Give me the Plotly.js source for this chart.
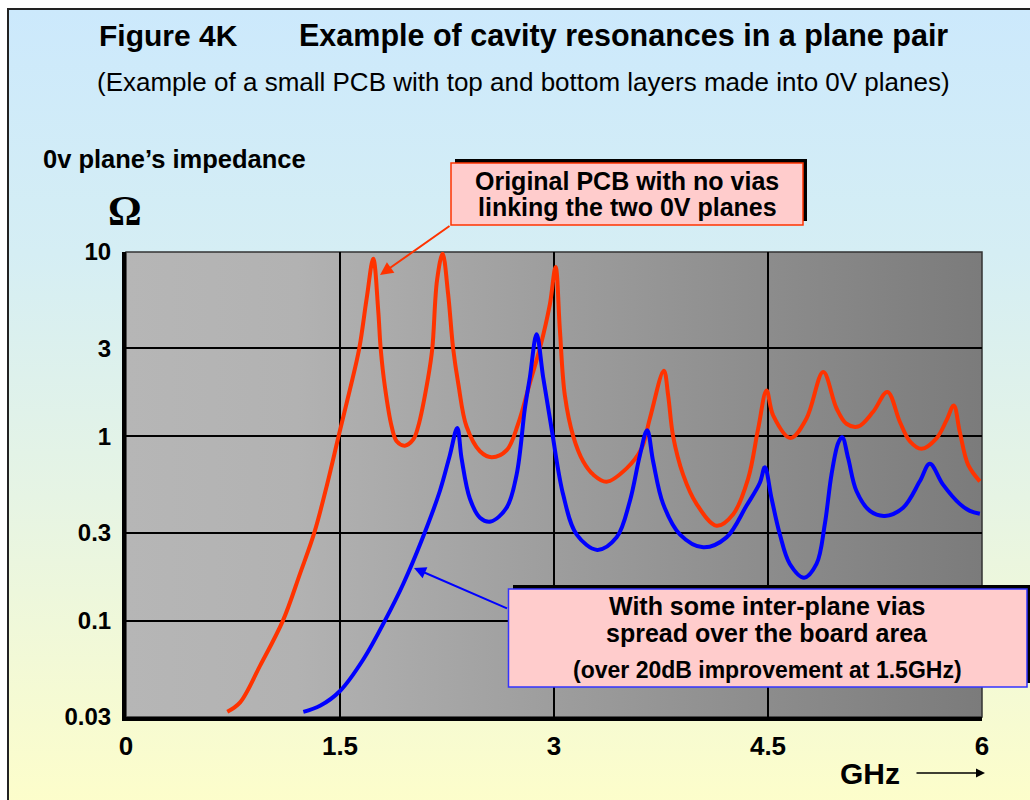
<!DOCTYPE html>
<html>
<head>
<meta charset="utf-8">
<script src="https://cdn.plot.ly/plotly-3.0.1.min.js"></script>
<style>
  html, body { margin: 0; padding: 0; background: #ffffff; }
  #wrap { position: relative; width: 1030px; height: 800px; overflow: hidden; }
  #frame { position: absolute; left: 7px; top: 8px; width: 1040px; height: 810px;
           border-left: 2px solid #222; border-top: 2px solid #222;
           background: linear-gradient(to bottom, #cce9fc 0%, #d5eef4 30%, #e6f4e4 60%, #fefec9 100%); }
  #chart { position: absolute; left: 0; top: 0; width: 1030px; height: 800px; }
</style>
</head>
<body>
<div id="wrap"><div id="frame"></div><div id="chart"></div></div>
<script>
// ---- data ----
// Original PCB with no vias (red)
const freqNoVias = [0.71, 0.80, 0.94, 1.10, 1.22, 1.32, 1.41, 1.49, 1.57, 1.635, 1.687, 1.733, 1.768, 1.785, 1.815, 1.862, 1.897, 1.955, 2.013, 2.048, 2.118, 2.147, 2.18, 2.219, 2.258, 2.293, 2.329, 2.387, 2.481, 2.563, 2.668, 2.749, 2.831, 2.901, 2.971, 3.011, 3.041, 3.076, 3.135, 3.205, 3.275, 3.368, 3.509, 3.614, 3.672, 3.770, 3.80, 3.835, 3.905, 3.999, 4.139, 4.256, 4.361, 4.431, 4.49, 4.536, 4.658, 4.77, 4.887, 4.98, 5.05, 5.132, 5.237, 5.337, 5.424, 5.494, 5.576, 5.681, 5.751, 5.802, 5.844, 5.903, 5.985];
const zNoVias    = [0.032, 0.036, 0.057, 0.10, 0.18, 0.30, 0.55, 1.0, 1.8, 3.0, 5.6, 9.2, 4.8, 3.0, 1.85, 1.13, 0.94, 0.89, 0.96, 1.13, 2.09, 3.0, 7.0, 9.8, 5.9, 3.0, 1.93, 1.13, 0.83, 0.77, 0.84, 1.17, 1.95, 3.0, 5.2, 8.3, 3.8, 1.67, 1.0, 0.73, 0.62, 0.567, 0.67, 0.86, 1.25, 2.27, 1.67, 1.0, 0.62, 0.43, 0.327, 0.378, 0.59, 1.10, 1.77, 1.3, 0.98, 1.25, 2.23, 1.42, 1.17, 1.13, 1.36, 1.74, 1.20, 0.94, 0.855, 0.975, 1.22, 1.47, 1.06, 0.70, 0.57];
// With inter-plane vias (blue)
const freqVias = [1.243, 1.36, 1.50, 1.663, 1.815, 1.943, 2.072, 2.20, 2.27, 2.322, 2.352, 2.41, 2.481, 2.556, 2.668, 2.738, 2.796, 2.831, 2.878, 2.924, 2.983, 3.065, 3.158, 3.303, 3.439, 3.532, 3.602, 3.653, 3.695, 3.765, 3.882, 4.046, 4.209, 4.349, 4.443, 4.478, 4.525, 4.583, 4.653, 4.753, 4.84, 4.898, 4.945, 4.992, 5.02, 5.062, 5.12, 5.214, 5.319, 5.447, 5.564, 5.634, 5.727, 5.844, 5.915, 5.985];
const zVias    = [0.032, 0.0345, 0.0415, 0.0615, 0.10, 0.158, 0.272, 0.505, 0.79, 1.11, 0.76, 0.46, 0.362, 0.345, 0.41, 0.62, 1.42, 2.09, 3.58, 2.09, 1.10, 0.48, 0.294, 0.242, 0.283, 0.446, 0.79, 1.08, 0.73, 0.43, 0.294, 0.25, 0.283, 0.42, 0.56, 0.68, 0.46, 0.294, 0.203, 0.171, 0.203, 0.333, 0.62, 0.92, 0.99, 0.76, 0.505, 0.394, 0.37, 0.41, 0.57, 0.71, 0.547, 0.43, 0.394, 0.38];
// axis ticks
const xTickVals = [0, 1.5, 3, 4.5, 6];
const xTickText = ['0', '1.5', '3', '4.5', '6'];
const yTickVals = [0.03, 0.1, 0.3, 1, 3, 10];
const yTickText = ['0.03', '0.1', '0.3', '1', '3', '10'];

// ---- layout helpers (pixel -> paper) ----
const W = 1030, H = 800, ML = 126, MR = 48, MT = 252, MB = 83;
const PW = W - ML - MR, PH = H - MT - MB;
const X = px => (px - ML) / PW;
const Y = py => (H - MB - py) / PH;
const SANS = 'Liberation Sans, Arial, Helvetica, sans-serif';
const RED = '#ff3300', BLUE = '#0000ff';

const plotGrad = "<svg xmlns='http://www.w3.org/2000/svg' width='856' height='465' preserveAspectRatio='none'>" +
  "<defs><linearGradient id='g' x1='0' y1='0' x2='1' y2='0'>" +
  "<stop offset='0' stop-color='#b6b6b6'/><stop offset='0.2' stop-color='#b2b2b2'/><stop offset='1' stop-color='#7b7b7b'/>" +
  "</linearGradient></defs><rect width='856' height='465' fill='url(#g)'/></svg>";

const traces = [
  { x: freqNoVias, y: zNoVias, type: 'scatter', mode: 'lines', name: 'Original PCB with no vias',
    line: { color: RED, width: 4, shape: 'spline', smoothing: 1 } },
  { x: freqVias, y: zVias, type: 'scatter', mode: 'lines', name: 'With some inter-plane vias',
    line: { color: BLUE, width: 4, shape: 'spline', smoothing: 1 } }
];

function txt(text, px, py, size, opts) {
  return Object.assign({ xref: 'paper', yref: 'paper', x: X(px), y: Y(py), text: text, showarrow: false,
    xanchor: 'center', yanchor: 'middle', font: { family: SANS, size: size, color: '#000' } }, opts || {});
}
function arrow(hx, hy, tx, ty, color, width, size) {
  return { xref: 'paper', yref: 'paper', x: X(hx), y: Y(hy), ax: tx - hx, ay: ty - hy,
    axref: 'pixel', ayref: 'pixel', text: '', showarrow: true, arrowhead: 2, arrowsize: size,
    arrowwidth: width, arrowcolor: color, standoff: 0, startstandoff: 0 };
}
function rect(x0, y0, x1, y1, fill, lineColor, lw) {
  return { type: 'rect', xref: 'paper', yref: 'paper', x0: X(x0), x1: X(x1), y0: Y(y1), y1: Y(y0),
    fillcolor: fill, line: { color: lineColor, width: lw }, layer: 'above' };
}

const layout = {
  width: W, height: H,
  margin: { l: ML, r: MR, t: MT, b: MB, pad: 0 },
  paper_bgcolor: 'rgba(0,0,0,0)', plot_bgcolor: 'rgba(0,0,0,0)',
  showlegend: false,
  xaxis: { range: [0, 6], tickvals: xTickVals, ticktext: xTickText, showgrid: true, gridcolor: '#000', gridwidth: 2,
    zeroline: false, showline: true, linecolor: '#000', linewidth: 4, ticks: '', ticklabelstandoff: 3,
    tickfont: { family: SANS, size: 26, color: '#000', weight: 'bold' }, fixedrange: true },
  yaxis: { type: 'log', range: [Math.log10(0.03), 1], tickvals: yTickVals, ticktext: yTickText, showgrid: true,
    gridcolor: '#000', gridwidth: 2, zeroline: false, showline: true, linecolor: '#000', linewidth: 4, ticks: '',
    ticklabelstandoff: 6, tickfont: { family: SANS, size: 24, color: '#000', weight: 'bold' }, fixedrange: true },
  images: [{ source: 'data:image/svg+xml;charset=utf-8,' + encodeURIComponent(plotGrad), xref: 'paper', yref: 'paper',
    x: 0, y: 1, sizex: 1, sizey: 1, sizing: 'stretch', xanchor: 'left', yanchor: 'top', layer: 'below' }],
  shapes: [
    { type: 'rect', xref: 'paper', yref: 'paper', x0: 0, x1: 1, y0: 0, y1: 1, line: { color: '#333', width: 1.5 }, layer: 'below' },
    rect(455, 159, 807, 221, '#000', '#000', 0),
    rect(451, 163, 803, 225, '#ffcccc', RED, 1.5),
    rect(513, 585, 1034, 683, '#000', '#000', 0),
    rect(508.5, 589, 1027, 687, '#ffcccc', '#3333ff', 1.5)
  ],
  annotations: [
    txt('<b>Figure 4K</b>', 97, 36, 30, { xanchor: 'left' }),
    txt('<b>Example of cavity resonances in a plane pair</b>', 297, 36, 30.5, { xanchor: 'left' }),
    txt('(Example of a small PCB with top and bottom layers made into 0V planes)', 523.5, 82, 26),
    txt('<b>0v plane\u2019s impedance</b>', 40.7, 159, 25.5, { xanchor: 'left' }),
    txt('<b>\u03a9</b>', 124.5, 211, 42, { font: { family: 'Liberation Serif, Times New Roman, serif', size: 42, color: '#000' } }),
    txt('<b>Original PCB with no vias</b>', 627, 181, 25),
    txt('<b>linking the two 0V planes</b>', 627, 207, 25),
    txt('<b>With some inter-plane vias</b>', 767, 606, 25),
    txt('<b>spread over the board area</b>', 767, 633, 25),
    txt('<b>(over 20dB improvement at 1.5GHz)</b>', 767, 670, 23),
    txt('<b>GHz</b>', 837.7, 773, 30, { xanchor: 'left' }),
    arrow(380, 275, 451, 225, RED, 2, 1.3),
    arrow(414, 568, 508.5, 609, BLUE, 2, 1.2),
    arrow(985, 773, 915, 773, '#000', 1.5, 1.2)
  ]
};

Plotly.newPlot('chart', traces, layout, { displayModeBar: false, staticPlot: true });
</script>
</body>
</html>
